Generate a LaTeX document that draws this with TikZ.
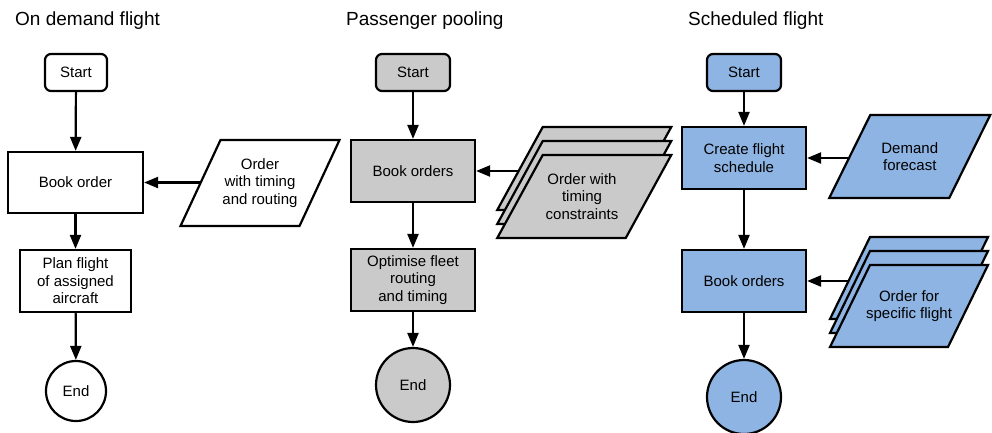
\documentclass[tikz,border=0pt]{standalone}
\usepackage{fontspec}
\setmainfont{Liberation Sans}
\usetikzlibrary{arrows.meta}
\definecolor{poolgrey}{HTML}{CACACA}
\definecolor{schedblue}{HTML}{8DB4E2}

% Input/output parallelogram: fill, centre x, centre y, side length, height, slant
\newcommand{\iodata}[6]{%
  \path[draw, line width=2.2pt, line join=miter, fill=#1]
    ({#2-#4/2-#6/2}, {#3+#5/2}) -- ++(#4,0) -- ++(#6,-#5) -- ++(-#4,0) -- cycle;}

\begin{document}
\begin{tikzpicture}[x=1pt, y=-1pt,
  every node/.style={font=\fontsize{15}{17.5}\selectfont, inner sep=0pt, align=center},
  heading/.style={font=\fontsize{19}{23}\selectfont, anchor=base west},
  stepbox/.style={draw, line width=2.2pt, rectangle},
  startbox/.style={draw, line width=2.2pt, rectangle, rounded corners=6pt,
    minimum height=37pt},
  endcircle/.style={draw, line width=2.2pt, circle},
  flow/.style={-{Triangle[length=14pt, width=11pt]}, line width=2.2pt},
]
\useasboundingbox (0,0) rectangle (992,432);

% ---------- On demand flight ----------
\node[heading] (t1) at (15,25) {On demand flight};
\node[startbox, fill=white, minimum width=62pt] (start1) at (76,72.5) {Start};
\node[stepbox, fill=white, minimum width=135pt, minimum height=61pt] (book1) at (75.5,182.5) {Book order};
\node[stepbox, fill=white, minimum width=111pt, minimum height=62pt] (plan1) at (75.5,281) {Plan flight\\of assigned\\aircraft};
\node[endcircle, fill=white, minimum size=60pt] (end1) at (76,391) {End};
\iodata{white}{260}{183}{119}{86}{40}
\node (ord1) at (260,183) {Order\\with timing\\and routing};
\coordinate (ord1in) at (200.5,182.5);

\draw[flow] (start1) -- (book1);
\draw[flow] (book1) -- (plan1);
\draw[flow] (plan1) -- (end1);
\draw[flow] (ord1in) -- (book1);

% ---------- Passenger pooling ----------
\node[heading] (t2) at (346,25) {Passenger pooling};
\node[startbox, fill=poolgrey, minimum width=74pt] (start2) at (413,72.5) {Start};
\node[stepbox, fill=poolgrey, minimum width=124pt, minimum height=62pt] (book2) at (413,171) {Book orders};
\node[stepbox, fill=poolgrey, minimum width=124pt, minimum height=62pt] (opt2) at (413,280) {Optimise fleet\\routing\\and timing};
\node[endcircle, fill=poolgrey, minimum size=74pt] (end2) at (413,385) {End};
\iodata{poolgrey}{584.25}{168.5}{128.5}{83}{45.5}
\iodata{poolgrey}{584.25}{182.5}{128.5}{83}{45.5}
\iodata{poolgrey}{584.25}{196.5}{128.5}{83}{45.5}
\node (ord2) at (582,196.5) {Order with\\timing\\constraints};
\coordinate (ord2in) at (518.6,171);

\draw[flow] (start2) -- (book2);
\draw[flow] (book2) -- (opt2);
\draw[flow] (opt2) -- (end2);
\draw[flow] (ord2in) -- (book2);

% ---------- Scheduled flight ----------
\node[heading] (t3) at (688,25) {Scheduled flight};
\node[startbox, fill=schedblue, minimum width=74pt] (start3) at (744,72.5) {Start};
\node[stepbox, fill=schedblue, minimum width=124pt, minimum height=62pt] (create3) at (744,158) {Create flight\\schedule};
\node[stepbox, fill=schedblue, minimum width=124pt, minimum height=62pt] (book3) at (744,281) {Book orders};
\node[endcircle, fill=schedblue, minimum size=74pt] (end3) at (744,397) {End};
\iodata{schedblue}{909.75}{156.5}{120}{83}{41}
\node (fc3) at (909.75,156.5) {Demand\\forecast};
\coordinate (fc3in) at (849,158);
\iodata{schedblue}{909}{278}{118}{82}{40}
\iodata{schedblue}{909}{292}{118}{82}{40}
\iodata{schedblue}{909}{306}{118}{82}{40}
\node (ord3) at (909,306) {Order for\\specific flight};
\coordinate (ord3in) at (848.5,281);

\draw[flow] (start3) -- (create3);
\draw[flow] (create3) -- (book3);
\draw[flow] (book3) -- (end3);
\draw[flow] (fc3in) -- (create3);
\draw[flow] (ord3in) -- (book3);
\end{tikzpicture}
\end{document}
